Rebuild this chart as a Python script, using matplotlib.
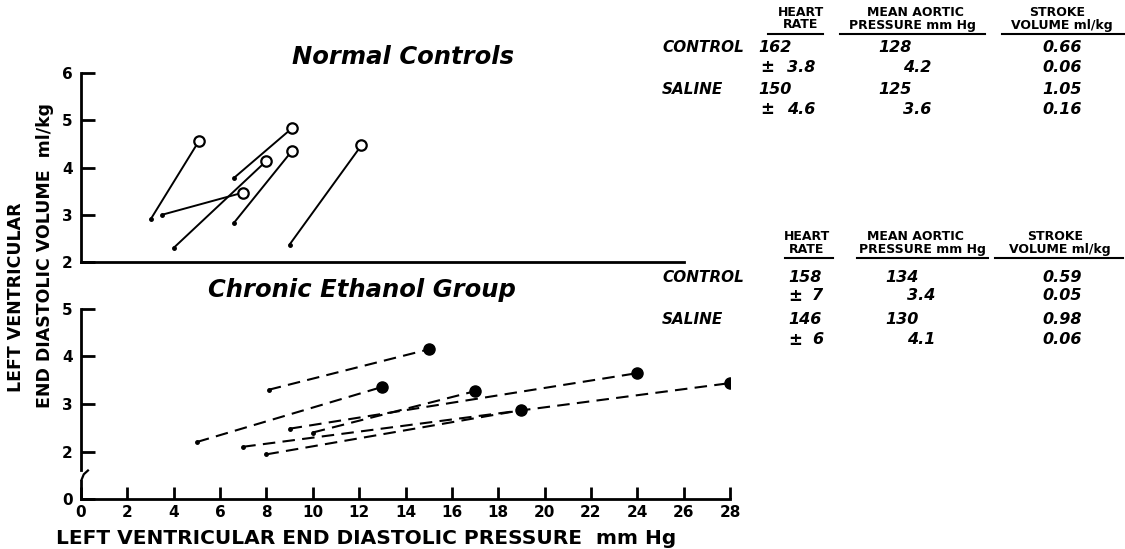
import matplotlib
matplotlib.use("Agg")
import matplotlib.pyplot as plt
from matplotlib.lines import Line2D

# Normal controls: control (small dot) -> saline (open circle)
normal_x0 = [3.0, 3.5, 4.0, 6.6, 6.6, 9.0]
normal_y0 = [2.90, 3.00, 2.30, 3.78, 2.83, 2.37]
normal_x1 = [5.1, 7.0, 8.0, 9.1, 9.1, 12.1]
normal_y1 = [4.57, 3.47, 4.14, 4.83, 4.35, 4.47]

# Chronic ethanol: control (small dot) -> saline (filled circle)
ethanol_x0 = [8.1, 5.0, 7.0, 8.0, 9.0, 10.0]
ethanol_y0 = [3.30, 2.20, 2.10, 1.94, 2.48, 2.40]
ethanol_x1 = [15.0, 13.0, 28.0, 19.0, 24.0, 17.0]
ethanol_y1 = [4.15, 3.36, 3.44, 2.87, 3.65, 3.27]

x_ticks = list(range(0, 29, 2))
top_yticks = [2, 3, 4, 5, 6]
bottom_yticks = [1, 2, 3, 4, 5]
bottom_ylabels = ["0", "2", "3", "4", "5"]

# summary tables
groups = ["CONTROL", "SALINE"]
normal_hr = ["162", "150"]
normal_hr_se = ["3.8", "4.6"]
normal_map = ["128", "125"]
normal_map_se = ["4.2", "3.6"]
normal_sv = ["0.66", "1.05"]
normal_sv_se = ["0.06", "0.16"]
ethanol_hr = ["158", "146"]
ethanol_hr_se = ["7", "6"]
ethanol_map = ["134", "130"]
ethanol_map_se = ["3.4", "4.1"]
ethanol_sv = ["0.59", "0.98"]
ethanol_sv_se = ["0.05", "0.06"]

W, H = 1125, 549
fig = plt.figure(figsize=(W / 100, H / 100), dpi=100)


def fx(x):
    return x / W


def fy(y):
    return 1 - y / H


def ax_rect(x0, y_top, x1, y_bot):
    return [fx(x0), fy(y_bot), fx(x1) - fx(x0), fy(y_top) - fy(y_bot)]


bold = dict(fontweight="bold", family="DejaVu Sans")
ital = dict(fontweight="bold", style="oblique", family="DejaVu Sans")

# ---- top panel ----
ax1 = fig.add_axes(ax_rect(81, 73, 730, 262))
ax1.set_xlim(0, 28)
ax1.set_ylim(2, 6)
for i in range(len(normal_x0)):
    ax1.plot([normal_x0[i], normal_x1[i]], [normal_y0[i], normal_y1[i]],
             color="black", lw=1.4, solid_capstyle="round")
ax1.plot(normal_x0, normal_y0, "o", ms=2.5, color="black")
ax1.plot(normal_x1, normal_y1, "o", ms=7.5, mfc="white", mec="black", mew=1.6)
for s in ["top", "right"]:
    ax1.spines[s].set_visible(False)
ax1.spines["left"].set_linewidth(2)
ax1.spines["bottom"].set_linewidth(2)
ax1.spines["bottom"].set_bounds(0, 26)
ax1.set_xticks([])
ax1.set_yticks(top_yticks)
ax1.set_yticklabels([str(t) for t in top_yticks], fontsize=11, **bold)
ax1.tick_params(axis="y", direction="in", length=10, width=2, pad=6)
ax1.set_facecolor("none")

# ---- bottom panel ----
ax2 = fig.add_axes(ax_rect(81, 309, 730, 499))
ax2.set_xlim(0, 28)
ax2.set_ylim(1, 5)
for i in range(len(ethanol_x0)):
    ax2.plot([ethanol_x0[i], ethanol_x1[i]], [ethanol_y0[i], ethanol_y1[i]],
             color="black", lw=1.5, dashes=(6, 3.5))
ax2.plot(ethanol_x0, ethanol_y0, "o", ms=2.5, color="black")
ax2.plot(ethanol_x1, ethanol_y1, "o", ms=8, color="black")
for s in ["top", "right"]:
    ax2.spines[s].set_visible(False)
ax2.spines["left"].set_linewidth(2)
ax2.spines["bottom"].set_linewidth(2)
ax2.spines["left"].set_bounds(1.62, 5)
ax2.plot([0, 0], [1, 1.38], color="black", lw=2, clip_on=False)
ax2.plot([0.02, 0.12, 0.3], [1.40, 1.52, 1.60], color="black", lw=1.6, clip_on=False)
ax2.set_xticks(x_ticks)
ax2.set_xticklabels([str(t) for t in x_ticks], fontsize=11, **bold)
ax2.set_yticks(bottom_yticks)
ax2.set_yticklabels(bottom_ylabels, fontsize=11, **bold)
ax2.tick_params(axis="y", direction="in", length=10, width=2, pad=6)
ax2.tick_params(axis="x", direction="in", length=9, width=2, pad=4)
ax2.set_facecolor("none")

# titles
fig.text(fx(403), fy(57), "Normal Controls", ha="center", va="center", fontsize=17.5, **ital)
fig.text(fx(362), fy(290), "Chronic Ethanol Group", ha="center", va="center",
         fontsize=17.5, **ital)

# axis labels
fig.text(fx(16), fy(297), "LEFT VENTRICULAR", rotation=90, ha="center", va="center",
         fontsize=12.5, **bold)
fig.text(fx(45), fy(256), "END DIASTOLIC VOLUME  ml/kg", rotation=90, ha="center",
         va="center", fontsize=12.5, **bold)
fig.text(fx(366), fy(538), "LEFT VENTRICULAR END DIASTOLIC PRESSURE  mm Hg", ha="center",
         va="center", fontsize=14.5, **bold)


def table(y_head, hr_x, ul, hr, hr_se, mp, mp_se, sv, sv_se, cols, rows):
    hx, mx, sx = hr_x
    fig.text(fx(hx), fy(y_head), "HEART", ha="center", va="center", fontsize=9, **bold)
    fig.text(fx(hx), fy(y_head + 13), "RATE", ha="center", va="center", fontsize=9, **bold)
    fig.text(fx(mx[0]), fy(y_head), "MEAN AORTIC", ha="center", va="center", fontsize=9,
             **bold)
    fig.text(fx(mx[1]), fy(y_head + 13), "PRESSURE mm Hg", ha="center", va="center",
             fontsize=9, **bold)
    fig.text(fx(sx[0]), fy(y_head), "STROKE", ha="center", va="center", fontsize=9, **bold)
    fig.text(fx(sx[1]), fy(y_head + 13), "VOLUME ml/kg", ha="center", va="center",
             fontsize=9, **bold)
    for a, b in ul:
        fig.add_artist(Line2D([fx(a), fx(b)], [fy(y_head + 22), fy(y_head + 22)],
                              color="black", lw=1.5))
    c_lab, c_pm, c_hr, c_hrse, c_mp, c_mpse, c_sv = cols
    for i, g in enumerate(groups):
        y0, y1 = rows[2 * i], rows[2 * i + 1]
        fig.text(fx(c_lab), fy(y0), g, ha="left", va="center", fontsize=11, **ital)
        fig.text(fx(c_hr), fy(y0), hr[i], ha="left", va="center", fontsize=11.5, **ital)
        fig.text(fx(c_mp), fy(y0), mp[i], ha="left", va="center", fontsize=11.5, **ital)
        fig.text(fx(c_sv), fy(y0), sv[i], ha="left", va="center", fontsize=11.5, **ital)
        fig.text(fx(c_pm), fy(y1), "±", ha="left", va="center", fontsize=12, **bold)
        fig.text(fx(c_hrse), fy(y1), hr_se[i], ha="left", va="center", fontsize=11.5, **ital)
        fig.text(fx(c_mpse), fy(y1), mp_se[i], ha="left", va="center", fontsize=11.5, **ital)
        fig.text(fx(c_sv), fy(y1), sv_se[i], ha="left", va="center", fontsize=11.5, **ital)


table(12, (801, (915, 912), (1057, 1062)), [(768, 823), (840, 985), (1002, 1124)],
      normal_hr, normal_hr_se, normal_map, normal_map_se, normal_sv, normal_sv_se,
      (662, 760, 758, 787, 878, 903, 1042), (48, 67, 90, 109))
table(236, (807, (915, 922), (1055, 1060)), [(785, 833), (857, 988), (995, 1123)],
      ethanol_hr, ethanol_hr_se, ethanol_map, ethanol_map_se, ethanol_sv, ethanol_sv_se,
      (662, 788, 788, 812, 885, 907, 1042), (277, 296, 320, 340))

fig.savefig("out.png", dpi=100)
